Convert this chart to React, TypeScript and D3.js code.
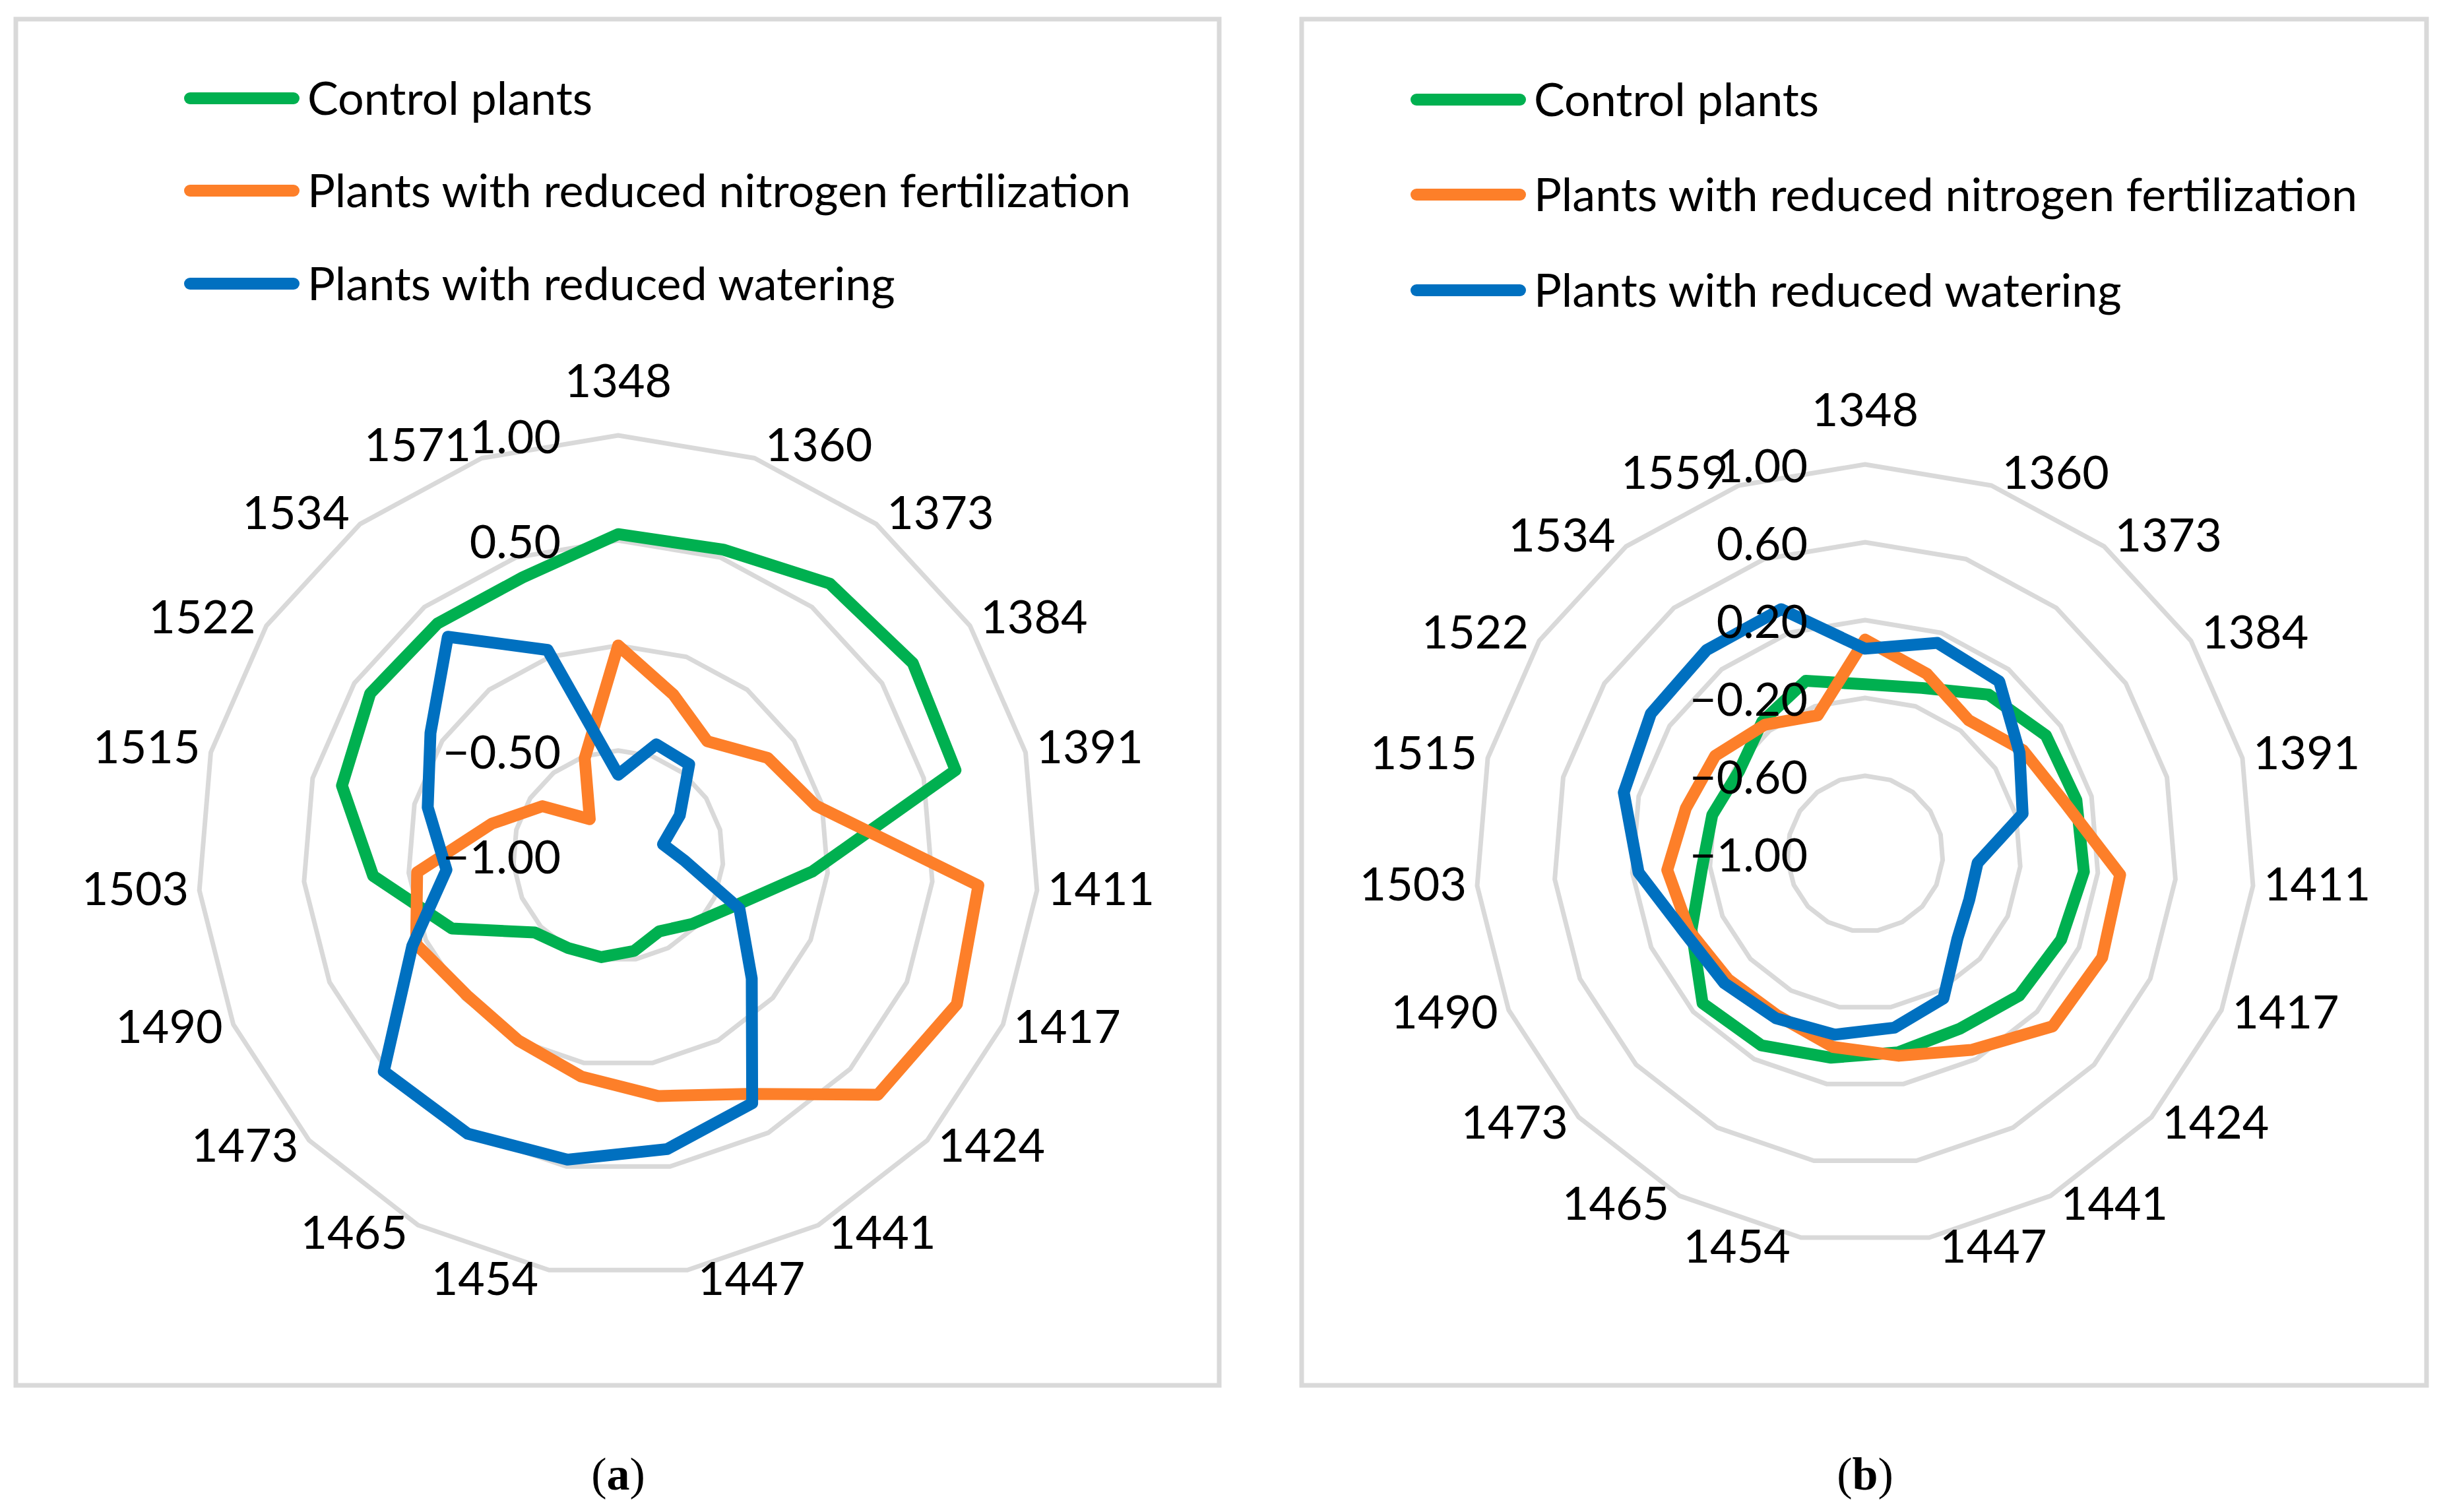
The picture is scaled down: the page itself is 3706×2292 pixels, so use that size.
import React, { useEffect } from 'react'
import * as d3 from 'd3'

// wavenumber categories of the two radar charts
const categoriesA = ['1348', '1360', '1373', '1384', '1391', '1411', '1417', '1424', '1441', '1447', '1454', '1465', '1473', '1490', '1503', '1515', '1522', '1534', '1571']
const categoriesB = ['1348', '1360', '1373', '1384', '1391', '1411', '1417', '1424', '1441', '1447', '1454', '1465', '1473', '1490', '1503', '1515', '1522', '1534', '1559']

const seriesNames = ['Control plants', 'Plants with reduced nitrogen fertilization', 'Plants with reduced watering']
const seriesColors = ['#00B050', '#FD7F29', '#0070C0']

// (a)
const controlA = [0.53, 0.54, 0.64, 0.675, 0.656, -0.074, -0.40, -0.52, -0.59, -0.54, -0.51, -0.50, -0.46, -0.136, 0.17, 0.356, 0.41, 0.40, 0.40]
const nitrogenA = [0.0, -0.19, -0.31, -0.15, -0.03, 0.72, 0.76, 0.68, 0.29, 0.16, 0.066, 0.0, -0.02, 0.05, -0.04, -0.38, -0.57, -0.78, -0.51]
const wateringA = [-0.615, -0.44, -0.45, -0.65, -0.78, -0.68, -0.37, -0.136, 0.34, 0.416, 0.467, 0.505, 0.516, 0.07, -0.18, -0.065, 0.067, 0.32, 0.035]

// (b)
const controlB = [-0.13, -0.10, 0.035, 0.11, 0.12, 0.128, 0.10, 0.077, 0.023, 0.035, 0.063, 0.12, 0.135, -0.026, -0.16, -0.19, -0.226, -0.14, -0.061]
const nitrogenB = [0.10, -0.023, -0.132, -0.03, 0.06, 0.315, 0.33, 0.31, 0.147, 0.053, 0.007, -0.054, -0.045, -0.013, 0.02, -0.05, -0.08, -0.161, -0.249]
const wateringB = [0.053, 0.145, 0.122, -0.052, -0.165, -0.42, -0.415, -0.355, -0.154, -0.093, -0.057, -0.038, -0.017, 0.012, 0.168, 0.279, 0.315, 0.326, 0.328]

const ticksA = [-1, -0.5, 0, 0.5, 1]
const ticksB = [-1, -0.6, -0.2, 0.2, 0.6, 1]

const FONT = 'Lato, "Open Sans", sans-serif'
const FS = 70
const GRID = '#D9D9D9'

const fmt = d3.format('.2f')

type RadarProps = {
  cx: number
  cy: number
  R: number
  categories: string[]
  series: number[][]
  ticks: number[]
  hideZero: boolean
  box: [number, number, number, number]
  legendX: number
  legendY: number[]
  caption: string
}

const Radar = ({ cx, cy, R, categories, series, ticks, hideZero, box, legendX, legendY, caption }: RadarProps) => {
  const n = categories.length
  const step = (2 * Math.PI) / n
  const r = d3.scaleLinear().domain([-1, 1]).range([0, R])
  const line = d3
    .lineRadial<number>()
    .angle((_, i) => i * step)
    .radius((v) => r(v))
    .curve(d3.curveLinearClosed)

  return (
    <g>
      <rect x={box[0]} y={box[1]} width={box[2] - box[0]} height={box[3] - box[1]} fill="#fff" stroke={GRID} strokeWidth={7} />

      {/* rings */}
      <g transform={`translate(${cx},${cy})`}>
        {ticks.filter((t) => r(t) > 0).map((t) => (
          <path key={t} d={line(categories.map(() => t)) || ''} fill="none" stroke={GRID} strokeWidth={7} strokeLinejoin="round" />
        ))}
        {series.map((s, k) => (
          <path key={k} d={line(s) || ''} fill="none" stroke={seriesColors[k]} strokeWidth={18} strokeLinejoin="round" />
        ))}
      </g>

      {/* category labels */}
      {categories.map((c, i) => {
        const a = i * step
        const px = cx + R * Math.sin(a)
        const py = cy - R * Math.cos(a)
        if (i === 0) {
          return (
            <text key={c} x={px} y={py - 83 + 25} textAnchor="middle" fontFamily={FONT} fontSize={FS}>{c}</text>
          )
        }
        const right = Math.sin(a) > 0
        return (
          <text key={c} x={px + (right ? 16 : -16)} y={py - 17 * Math.cos(a) - 4 + 25} textAnchor={right ? 'start' : 'end'} fontFamily={FONT} fontSize={FS}>{c}</text>
        )
      })}

      {/* value labels */}
      {ticks.map((t) => (
        <text key={t} x={cx - 87} y={cy - r(t) + 2 + 25} textAnchor="end" fontFamily={FONT} fontSize={FS}>
          {hideZero && t === 0 ? '' : fmt(t)}
        </text>
      ))}

      {/* legend */}
      {seriesNames.map((name, k) => (
        <g key={name}>
          <line x1={legendX} x2={legendX + 157} y1={legendY[k]} y2={legendY[k]} stroke={seriesColors[k]} strokeWidth={18} strokeLinecap="round" />
          <text x={legendX + 178} y={legendY[k] + 25} fontFamily={FONT} fontSize={FS}>{name}</text>
        </g>
      ))}

      <text x={cx} y={2258} textAnchor="middle" fontFamily='"Liberation Serif", "DejaVu Serif", serif' fontSize={70}>
        (<tspan fontWeight="bold">{caption}</tspan>)
      </text>
    </g>
  )
}

const App = () => {
  useEffect(() => {
    document.body.style.margin = '0'
  }, [])

  return (
    <svg width={3706} height={2292} viewBox="0 0 3706 2292" style={{ display: 'block', background: '#fff' }}>
      <Radar
        cx={937}
        cy={1297}
        R={637}
        categories={categoriesA}
        series={[controlA, nitrogenA, wateringA]}
        ticks={ticksA}
        hideZero={true}
        box={[24, 29, 1848, 2100]}
        legendX={288}
        legendY={[149, 289, 430]}
        caption="a"
      />
      <Radar
        cx={2827}
        cy={1294}
        R={590}
        categories={categoriesB}
        series={[controlB, nitrogenB, wateringB]}
        ticks={ticksB}
        hideZero={false}
        box={[1973, 29, 3678, 2100]}
        legendX={2147}
        legendY={[151, 295, 440]}
        caption="b"
      />
    </svg>
  )
}

export default App
